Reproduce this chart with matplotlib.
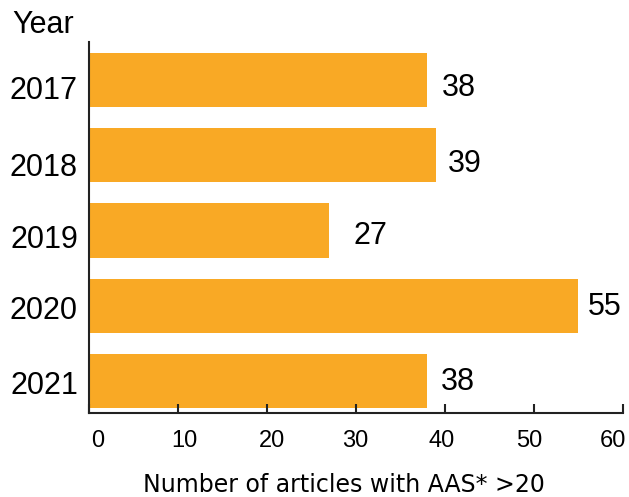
import numpy as np
import matplotlib.pyplot as plt
from matplotlib.transforms import ScaledTranslation

plt.rcParams['font.family'] = ['Liberation Sans', 'DejaVu Sans']

# Data
years = ['2017', '2018', '2019', '2020', '2021']
articles = [38, 39, 27, 55, 38]
xticks = [0, 10, 20, 30, 40, 50, 60]

# label nudges, in pixels
label_pad = [15, 12, 24, 10, 14]       # gap between bar end and value label
row_shift = [7.5, 9, 5.5, 1.5, 1]      # downward shift of row labels
xtick_shift = [9, 6, 5.5, -1, -3.5, -5, -10]

bar_color = '#F9A925'
axis_color = '#222222'
px = 72 / 100  # points per pixel at dpi 100

fig = plt.figure(figsize=(6.29, 4.97), dpi=100)
ax = fig.add_axes([0.1415, 0.169, 0.8485, 0.7465])

pos = np.arange(len(years))
ax.barh(pos, articles, height=0.72, color=bar_color)

for p, v, pad, dy in zip(pos, articles, label_pad, row_shift):
    ax.annotate(str(v), xy=(v, p), xytext=(pad * px, -dy * px),
                textcoords='offset points', ha='left', va='center',
                fontsize=22, color='black')

ax.set_xlim(0, 60)
ax.set_ylim(4.425, -0.505)
ax.set_xticks(xticks)
ax.set_yticks(pos)
ax.set_yticklabels(years)

for side in ['top', 'right']:
    ax.spines[side].set_visible(False)
for side in ['left', 'bottom']:
    ax.spines[side].set_color(axis_color)
    ax.spines[side].set_linewidth(1.5)

ax.tick_params(axis='x', direction='in', length=6.5, width=1.5, color=axis_color,
               labelsize=17, pad=12)
ax.tick_params(axis='y', length=0, labelsize=22, pad=8)

for lbl, dx in zip(ax.get_xticklabels(), xtick_shift):
    lbl.set_transform(lbl.get_transform()
                      + ScaledTranslation(dx / 100, 0, fig.dpi_scale_trans))
for lbl, dy in zip(ax.get_yticklabels(), row_shift):
    lbl.set_transform(lbl.get_transform()
                      + ScaledTranslation(0, -dy / 100, fig.dpi_scale_trans))

fig.text(12 / 629, 1 - 33 / 497, 'Year', ha='left', va='baseline', fontsize=22)
fig.text(343.5 / 629, 1 - 492 / 497, 'Number of articles with AAS* >20',
         ha='center', va='baseline', fontsize=17, family='DejaVu Sans')

fig.savefig('out.png', dpi=100)
